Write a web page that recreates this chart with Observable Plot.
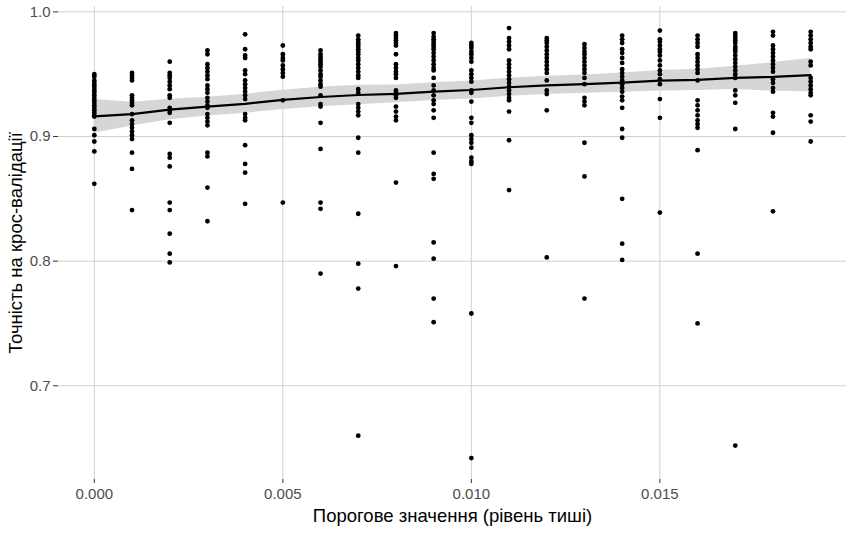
<!DOCTYPE html>
<html>
<head>
<meta charset="utf-8">
<script src="https://cdn.jsdelivr.net/npm/d3@7"></script>
<script src="https://cdn.jsdelivr.net/npm/@observablehq/plot@0.6"></script>
<style>
  html, body { margin: 0; padding: 0; background: #ffffff; }
  #chart { width: 846px; height: 533px; }
</style>
</head>
<body>
<div id="chart"></div>
<script>
// Silence threshold values tested (one column of runs per threshold)
const thresholds = [0.000, 0.001, 0.002, 0.003, 0.004, 0.005, 0.006, 0.007, 0.008, 0.009,
                    0.010, 0.011, 0.012, 0.013, 0.014, 0.015, 0.016, 0.017, 0.018, 0.019];

// Cross-validation accuracy of each run, grouped by threshold
const accuracy = [
  [0.950, 0.948, 0.945, 0.943, 0.941, 0.939, 0.937, 0.935, 0.933, 0.931, 0.929, 0.927, 0.925, 0.923, 0.921, 0.919, 0.917, 0.916, 0.906, 0.901, 0.896, 0.888, 0.862],
  [0.951, 0.949, 0.947, 0.945, 0.933, 0.931, 0.929, 0.927, 0.925, 0.918, 0.913, 0.910, 0.907, 0.904, 0.901, 0.898, 0.887, 0.874, 0.841],
  [0.960, 0.951, 0.949, 0.947, 0.944, 0.941, 0.938, 0.933, 0.931, 0.923, 0.921, 0.919, 0.911, 0.886, 0.883, 0.876, 0.847, 0.841, 0.822, 0.806, 0.799],
  [0.969, 0.966, 0.958, 0.955, 0.952, 0.949, 0.946, 0.941, 0.938, 0.935, 0.931, 0.928, 0.925, 0.923, 0.918, 0.915, 0.912, 0.909, 0.887, 0.884, 0.859, 0.832],
  [0.982, 0.970, 0.965, 0.963, 0.953, 0.950, 0.945, 0.942, 0.939, 0.936, 0.933, 0.930, 0.918, 0.915, 0.913, 0.893, 0.878, 0.871, 0.846],
  [0.973, 0.966, 0.963, 0.961, 0.957, 0.954, 0.951, 0.948, 0.929, 0.847],
  [0.969, 0.966, 0.964, 0.962, 0.960, 0.958, 0.956, 0.953, 0.950, 0.948, 0.945, 0.942, 0.940, 0.933, 0.926, 0.924, 0.911, 0.890, 0.847, 0.842, 0.790],
  [0.981, 0.978, 0.976, 0.974, 0.972, 0.970, 0.968, 0.966, 0.963, 0.961, 0.958, 0.955, 0.952, 0.949, 0.947, 0.938, 0.935, 0.926, 0.923, 0.920, 0.917, 0.899, 0.887, 0.838, 0.798, 0.778, 0.660],
  [0.983, 0.981, 0.979, 0.977, 0.975, 0.973, 0.966, 0.958, 0.955, 0.952, 0.950, 0.947, 0.937, 0.935, 0.933, 0.931, 0.924, 0.920, 0.916, 0.913, 0.863, 0.796],
  [0.983, 0.980, 0.978, 0.976, 0.974, 0.972, 0.970, 0.967, 0.964, 0.961, 0.958, 0.955, 0.953, 0.947, 0.941, 0.937, 0.933, 0.929, 0.926, 0.921, 0.915, 0.887, 0.870, 0.866, 0.815, 0.802, 0.770, 0.751],
  [0.975, 0.973, 0.971, 0.968, 0.966, 0.963, 0.960, 0.953, 0.950, 0.947, 0.944, 0.937, 0.935, 0.928, 0.915, 0.911, 0.901, 0.898, 0.895, 0.891, 0.883, 0.880, 0.878, 0.758, 0.642],
  [0.987, 0.979, 0.976, 0.973, 0.970, 0.961, 0.958, 0.955, 0.952, 0.949, 0.946, 0.943, 0.940, 0.937, 0.934, 0.931, 0.929, 0.920, 0.897, 0.857],
  [0.979, 0.977, 0.975, 0.972, 0.969, 0.966, 0.963, 0.960, 0.957, 0.954, 0.951, 0.945, 0.937, 0.934, 0.921, 0.803],
  [0.974, 0.971, 0.968, 0.966, 0.963, 0.960, 0.957, 0.954, 0.951, 0.947, 0.942, 0.931, 0.928, 0.925, 0.895, 0.868, 0.770],
  [0.981, 0.978, 0.975, 0.970, 0.967, 0.963, 0.959, 0.954, 0.951, 0.948, 0.945, 0.942, 0.939, 0.936, 0.932, 0.929, 0.923, 0.906, 0.899, 0.850, 0.814, 0.801],
  [0.985, 0.978, 0.976, 0.973, 0.970, 0.968, 0.965, 0.961, 0.957, 0.953, 0.950, 0.946, 0.942, 0.930, 0.915, 0.839],
  [0.981, 0.978, 0.975, 0.972, 0.966, 0.963, 0.960, 0.957, 0.954, 0.951, 0.945, 0.929, 0.925, 0.921, 0.917, 0.913, 0.910, 0.907, 0.889, 0.806, 0.750],
  [0.983, 0.981, 0.979, 0.977, 0.975, 0.972, 0.970, 0.968, 0.965, 0.962, 0.959, 0.956, 0.953, 0.950, 0.947, 0.937, 0.933, 0.927, 0.906, 0.652],
  [0.984, 0.981, 0.973, 0.970, 0.967, 0.964, 0.961, 0.958, 0.955, 0.952, 0.946, 0.943, 0.939, 0.936, 0.919, 0.916, 0.903, 0.840],
  [0.984, 0.981, 0.978, 0.975, 0.972, 0.970, 0.960, 0.957, 0.947, 0.944, 0.941, 0.938, 0.935, 0.933, 0.917, 0.912, 0.896]
];

// Smoothed trend (fitted value) and half-width of its confidence band at each threshold
const trendFit = [0.9162, 0.9180, 0.9216, 0.9240, 0.9262, 0.9294, 0.9317, 0.9333, 0.9342, 0.9360,
                  0.9373, 0.9395, 0.9410, 0.9420, 0.9432, 0.9448, 0.9455, 0.9470, 0.9478, 0.9493];
const trendHalfWidth = [0.0135, 0.0095, 0.0082, 0.0075, 0.0076, 0.0077, 0.0078, 0.0078, 0.0072, 0.0072,
                        0.0072, 0.0072, 0.0073, 0.0073, 0.0077, 0.0082, 0.0085, 0.0093, 0.0115, 0.0133];

// Axis ticks and titles
const xTicks = [0.000, 0.005, 0.010, 0.015];
const yTicks = [0.7, 0.8, 0.9, 1.0];
const xTitle = "Порогове значення (рівень тиші)";
const yTitle = "Точність на крос-валідації";

// Long-form tables built from the arrays above
const runs = thresholds.flatMap((t, i) => accuracy[i].map(a => ({threshold: t, accuracy: a})));
const trend = thresholds.map((t, i) => ({
  threshold: t,
  fit: trendFit[i],
  lo: trendFit[i] - trendHalfWidth[i],
  hi: trendFit[i] + trendHalfWidth[i]
}));

const gridColor = "#d0d0d0";

const chart = Plot.plot({
  width: 846,
  height: 533,
  marginLeft: 58,
  marginRight: 0,
  marginTop: 6,
  marginBottom: 54,
  style: {
    fontFamily: "'Liberation Sans', Arial, sans-serif",
    fontSize: "15px",
    background: "#ffffff",
    color: "#4d4d4d"
  },
  x: {domain: [-0.00095, 0.01995]},
  y: {domain: [0.6248, 1.0043]},
  marks: [
    Plot.gridX(xTicks, {stroke: gridColor, strokeOpacity: 1, strokeWidth: 1}),
    Plot.gridY(yTicks, {stroke: gridColor, strokeOpacity: 1, strokeWidth: 1}),
    Plot.areaY(trend, {x: "threshold", y1: "lo", y2: "hi", fill: "#d6d6d6", fillOpacity: 1}),
    Plot.dot(runs, {x: "threshold", y: "accuracy", r: 2.4, fill: "#000000", stroke: null}),
    Plot.lineY(trend, {x: "threshold", y: "fit", stroke: "#000000", strokeWidth: 2.2}),
    Plot.axisX(xTicks, {
      tickFormat: d3.format(".3f"), tickSize: 4, tickPadding: 5,
      stroke: "#333333", fill: "#4d4d4d", fontSize: 15, label: null
    }),
    Plot.axisY(yTicks, {
      tickFormat: d3.format(".1f"), tickSize: 5, tickPadding: 3,
      stroke: "#333333", fill: "#4d4d4d", fontSize: 15, label: null
    }),
    Plot.text([xTitle], {
      frameAnchor: "bottom", dy: 42, text: d => d,
      fontSize: 18.5, fill: "#000000"
    }),
    Plot.text([yTitle], {
      frameAnchor: "left", dx: -42, rotate: -90, textAnchor: "middle", text: d => d,
      fontSize: 18.5, fill: "#000000"
    })
  ]
});

document.getElementById("chart").appendChild(chart);
</script>
</body>
</html>
